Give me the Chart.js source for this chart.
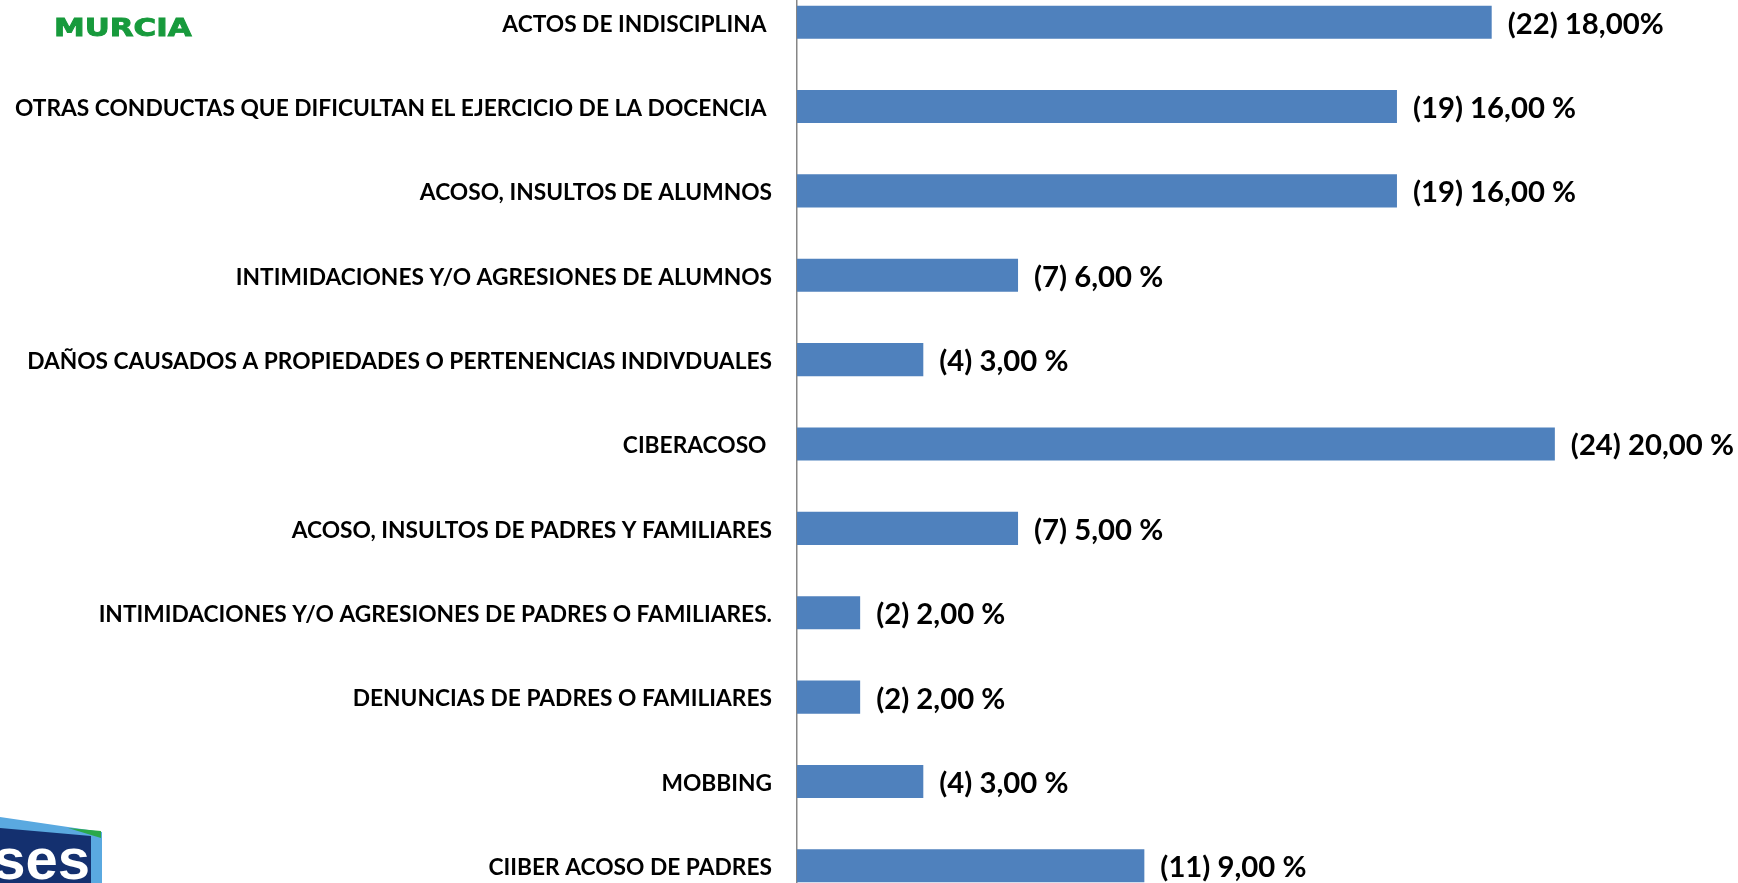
<!DOCTYPE html>
<html>
<head>
<meta charset="utf-8">
<script src="https://cdn.jsdelivr.net/npm/chart.js@4.4.1/dist/chart.umd.min.js"></script>
<style>
  html, body { margin: 0; padding: 0; background: #ffffff; overflow: hidden; width: 1738px; height: 883px; }
  #wrap { position: absolute; left: 0; top: -20px; width: 1738px; height: 928px; }
  #murcia { position: absolute; left: 54px; top: 16px; font-family: "DejaVu Sans", sans-serif; font-weight: bold; font-size: 24.5px; line-height: 1; color: #179a3c; transform: scaleX(1.26); transform-origin: left top; -webkit-text-stroke: 0.9px #179a3c; }
  #logo { position: absolute; left: 0; top: 815px; }
</style>
</head>
<body>
<div id="wrap"><canvas id="c" width="1738" height="928"></canvas></div>
<div id="murcia">MURCIA</div>
<svg id="logo" width="110" height="68" viewBox="0 815 110 68">
  <polygon points="0,817 102,832 102,883 0,883" fill="#5aa9e0"/>
  <polygon points="68,828 101,831 101,838" fill="#2aa84a"/>
  <polygon points="0,828 91,836 91,883 0,883" fill="#14306f"/>
  <text x="-26" y="879" font-family="Liberation Sans, Arial, sans-serif" font-weight="bold" font-size="58" fill="#ffffff">fses</text>
</svg>
<script>
const categories = [
  "ACTOS DE INDISCIPLINA ",
  "OTRAS CONDUCTAS QUE DIFICULTAN EL EJERCICIO DE LA DOCENCIA ",
  "ACOSO, INSULTOS DE ALUMNOS",
  "INTIMIDACIONES Y/O AGRESIONES DE ALUMNOS",
  "DAÑOS CAUSADOS A PROPIEDADES O PERTENENCIAS INDIVDUALES",
  "CIBERACOSO ",
  "ACOSO, INSULTOS DE PADRES Y FAMILIARES",
  "INTIMIDACIONES Y/O AGRESIONES DE PADRES O FAMILIARES.",
  "DENUNCIAS DE PADRES O FAMILIARES",
  "MOBBING",
  "CIIBER ACOSO DE PADRES"
];
const counts = [22, 19, 19, 7, 4, 24, 7, 2, 2, 4, 11];
const percents = ["18,00%", "16,00 %", "16,00 %", "6,00 %", "3,00 %", "20,00 %", "5,00 %", "2,00 %", "2,00 %", "3,00 %", "9,00 %"];

const FAMILY = "Lato, 'Open Sans', sans-serif";
const mctx = document.createElement('canvas').getContext('2d');
function fitSize(text, target) {
  mctx.font = "bold 100px " + FAMILY;
  return 100 * target / mctx.measureText(text).width;
}
const catSize = fitSize(categories[1].trim(), 752);
const valSize = fitSize("(22) 18,00%", 156);

const valueLabels = {
  id: 'valueLabels',
  afterDatasetsDraw(chart) {
    const ctx = chart.ctx;
    const meta = chart.getDatasetMeta(0);
    ctx.save();
    ctx.font = "bold " + valSize + "px " + FAMILY;
    ctx.fillStyle = "#000000";
    ctx.textAlign = "left";
    ctx.textBaseline = "middle";
    meta.data.forEach((bar, i) => {
      ctx.fillText("(" + counts[i] + ") " + percents[i], bar.x + 16, bar.y + 2);
    });
    ctx.restore();
  }
};

new Chart(document.getElementById('c'), {
  type: 'bar',
  data: {
    labels: categories,
    datasets: [{
      data: counts,
      backgroundColor: "#4f81bd",
      borderWidth: 0,
      barPercentage: 0.392,
      categoryPercentage: 1.0
    }]
  },
  options: {
    indexAxis: 'y',
    responsive: false,
    animation: false,
    layout: { padding: 0 },
    plugins: { legend: { display: false }, tooltip: { enabled: false }, title: { display: false } },
    scales: {
      x: { display: false, min: 0, max: 29.8 },
      y: {
        type: 'category',
        offset: true,
        grid: { display: true, drawOnChartArea: false, drawTicks: false, color: 'rgba(0,0,0,0)' },
        border: { display: true, color: '#868686', width: 1.5 },
        ticks: {
          padding: 25,
          labelOffset: 2,
          color: '#000000',
          font: { family: FAMILY, weight: 'bold', size: catSize },
          autoSkip: false
        },
        afterFit(scale) {
          scale.width = 797;
          scale.paddingTop = 0;
          scale.paddingBottom = 0;
        }
      }
    }
  },
  plugins: [valueLabels]
});
</script>
</body>
</html>
